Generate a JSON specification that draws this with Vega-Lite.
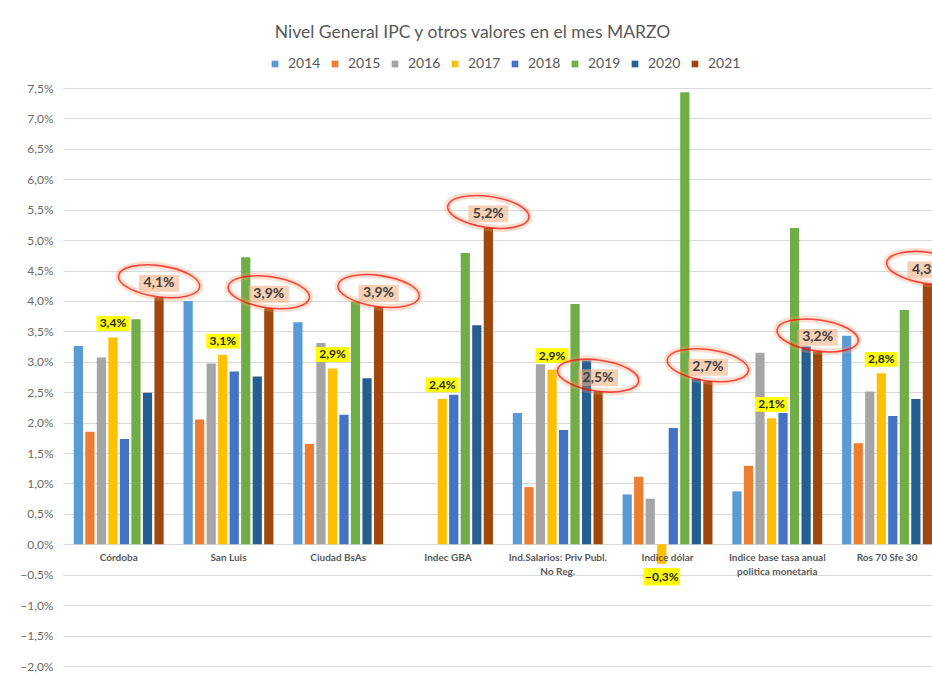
{
  "$schema": "https://vega.github.io/schema/vega-lite/v6.json",
  "width": 869,
  "height": 578,
  "autosize": {"type": "none"},
  "padding": {"left": 63, "top": 88, "right": 0, "bottom": 15},
  "background": "white",
  "config": {
    "locale": {"number": {"decimal": ",", "thousands": ".", "grouping": [3], "currency": ["", " €"]}},
    "view": {"stroke": null},
    "font": "Lato"
  },
  "title": {
    "text": "Nivel General IPC y otros valores en el mes MARZO",
    "font": "Lato",
    "fontSize": 17.5,
    "fontWeight": "normal",
    "color": "#595959",
    "anchor": "middle",
    "dx": -25,
    "offset": 16
  },
  "data": {
    "values": [
      {"c": "Córdoba", "y": "2014", "v": 0.0326},
      {"c": "Córdoba", "y": "2015", "v": 0.0185},
      {"c": "Córdoba", "y": "2016", "v": 0.0307},
      {"c": "Córdoba", "y": "2017", "v": 0.0340},
      {"c": "Córdoba", "y": "2018", "v": 0.0173},
      {"c": "Córdoba", "y": "2019", "v": 0.0370},
      {"c": "Córdoba", "y": "2020", "v": 0.0249},
      {"c": "Córdoba", "y": "2021", "v": 0.0406},
      {"c": "San Luis", "y": "2014", "v": 0.0400},
      {"c": "San Luis", "y": "2015", "v": 0.0205},
      {"c": "San Luis", "y": "2016", "v": 0.0297},
      {"c": "San Luis", "y": "2017", "v": 0.0311},
      {"c": "San Luis", "y": "2018", "v": 0.0284},
      {"c": "San Luis", "y": "2019", "v": 0.0472},
      {"c": "San Luis", "y": "2020", "v": 0.0276},
      {"c": "San Luis", "y": "2021", "v": 0.0388},
      {"c": "Ciudad BsAs", "y": "2014", "v": 0.0365},
      {"c": "Ciudad BsAs", "y": "2015", "v": 0.0165},
      {"c": "Ciudad BsAs", "y": "2016", "v": 0.0331},
      {"c": "Ciudad BsAs", "y": "2017", "v": 0.0289},
      {"c": "Ciudad BsAs", "y": "2018", "v": 0.0213},
      {"c": "Ciudad BsAs", "y": "2019", "v": 0.0399},
      {"c": "Ciudad BsAs", "y": "2020", "v": 0.0273},
      {"c": "Ciudad BsAs", "y": "2021", "v": 0.0390},
      {"c": "Indec  GBA", "y": "2017", "v": 0.0239},
      {"c": "Indec  GBA", "y": "2018", "v": 0.0246},
      {"c": "Indec  GBA", "y": "2019", "v": 0.0479},
      {"c": "Indec  GBA", "y": "2020", "v": 0.0360},
      {"c": "Indec  GBA", "y": "2021", "v": 0.0520},
      {"c": "Ind.Salarios: Priv Publ.\nNo Reg.", "y": "2014", "v": 0.0216},
      {"c": "Ind.Salarios: Priv Publ.\nNo Reg.", "y": "2015", "v": 0.0094},
      {"c": "Ind.Salarios: Priv Publ.\nNo Reg.", "y": "2016", "v": 0.0296},
      {"c": "Ind.Salarios: Priv Publ.\nNo Reg.", "y": "2017", "v": 0.0287},
      {"c": "Ind.Salarios: Priv Publ.\nNo Reg.", "y": "2018", "v": 0.0188},
      {"c": "Ind.Salarios: Priv Publ.\nNo Reg.", "y": "2019", "v": 0.0395},
      {"c": "Ind.Salarios: Priv Publ.\nNo Reg.", "y": "2020", "v": 0.0302},
      {"c": "Ind.Salarios: Priv Publ.\nNo Reg.", "y": "2021", "v": 0.0251},
      {"c": "Indice dólar", "y": "2014", "v": 0.0082},
      {"c": "Indice dólar", "y": "2015", "v": 0.0111},
      {"c": "Indice dólar", "y": "2016", "v": 0.0075},
      {"c": "Indice dólar", "y": "2017", "v": -0.0032},
      {"c": "Indice dólar", "y": "2018", "v": 0.0191},
      {"c": "Indice dólar", "y": "2019", "v": 0.0743},
      {"c": "Indice dólar", "y": "2020", "v": 0.0272},
      {"c": "Indice dólar", "y": "2021", "v": 0.0268},
      {"c": "Indice base tasa anual\npolitica monetaria", "y": "2014", "v": 0.0087},
      {"c": "Indice base tasa anual\npolitica monetaria", "y": "2015", "v": 0.0129},
      {"c": "Indice base tasa anual\npolitica monetaria", "y": "2016", "v": 0.0315},
      {"c": "Indice base tasa anual\npolitica monetaria", "y": "2017", "v": 0.0207},
      {"c": "Indice base tasa anual\npolitica monetaria", "y": "2018", "v": 0.0216},
      {"c": "Indice base tasa anual\npolitica monetaria", "y": "2019", "v": 0.0520},
      {"c": "Indice base tasa anual\npolitica monetaria", "y": "2020", "v": 0.0325},
      {"c": "Indice base tasa anual\npolitica monetaria", "y": "2021", "v": 0.0317},
      {"c": "Ros 70 Sfe 30", "y": "2014", "v": 0.0343},
      {"c": "Ros 70 Sfe 30", "y": "2015", "v": 0.0166},
      {"c": "Ros 70 Sfe 30", "y": "2016", "v": 0.0251},
      {"c": "Ros 70 Sfe 30", "y": "2017", "v": 0.0281},
      {"c": "Ros 70 Sfe 30", "y": "2018", "v": 0.0211},
      {"c": "Ros 70 Sfe 30", "y": "2019", "v": 0.0385},
      {"c": "Ros 70 Sfe 30", "y": "2020", "v": 0.0239},
      {"c": "Ros 70 Sfe 30", "y": "2021", "v": 0.0428}
    ]
  },
  "encoding": {
    "x": {
      "field": "c",
      "type": "nominal",
      "sort": ["Córdoba", "San Luis", "Ciudad BsAs", "Indec  GBA", "Ind.Salarios: Priv Publ.\nNo Reg.", "Indice dólar", "Indice base tasa anual\npolitica monetaria", "Ros 70 Sfe 30"],
      "scale": {"paddingInner": 0.181, "paddingOuter": 0.049, "align": 1},
      "axis": null
    },
    "y": {
      "field": "v",
      "type": "quantitative",
      "scale": {"domain": [-0.02, 0.075], "nice": false, "zero": false},
      "axis": {
        "values": [-0.02, -0.015, -0.01, -0.005, 0, 0.005, 0.01, 0.015, 0.02, 0.025, 0.03, 0.035, 0.04, 0.045, 0.05, 0.055, 0.06, 0.065, 0.07, 0.075],
        "format": ".1%",
        "title": null,
        "ticks": false,
        "domain": false,
        "labelPadding": 10,
        "labelFont": "Lato",
        "labelFontSize": 12,
        "labelColor": "#6b6b6b",
        "gridColor": "#D9D9D9",
        "gridWidth": 1
      }
    }
  },
  "layer": [
    {
      "mark": {"type": "bar"},
      "encoding": {
        "xOffset": {"field": "y", "type": "nominal", "scale": {"paddingInner": 0.2, "paddingOuter": 0}},
        "color": {
          "field": "y",
          "type": "nominal",
          "scale": {
            "domain": ["2014", "2015", "2016", "2017", "2018", "2019", "2020", "2021"],
            "range": ["#5B9BD5", "#ED7D31", "#A5A5A5", "#FFC000", "#4472C4", "#70AD47", "#255E91", "#9E480E"]
          },
          "legend": {
            "orient": "none",
            "direction": "horizontal",
            "legendX": 205,
            "legendY": -31,
            "title": null,
            "symbolType": "square",
            "symbolSize": 45,
            "symbolStrokeWidth": 0,
            "labelFont": "Lato",
            "labelFontSize": 14,
            "labelColor": "#595959",
            "labelOffset": 6,
            "columnPadding": 7
          }
        }
      }
    },
    {
      "transform": [{"filter": "datum.y == '2021'"}],
      "mark": {"type": "text", "baseline": "top", "align": "center", "font": "Lato", "fontSize": 10, "fontWeight": "bold", "color": "#595959", "lineBreak": "\n", "lineHeight": 13.4, "yOffset": 9},
      "encoding": {
        "y": {"datum": 0},
        "text": {"field": "c"}
      }
    },
    {
      "transform": [{"filter": "datum.y == '2017' && datum.v > 0"}],
      "mark": {"type": "point", "shape": "M-1,-0.45L1,-0.45L1,0.45L-1,0.45Z", "size": 1089, "filled": true, "color": "#FFFF00", "opacity": 1, "strokeWidth": 0, "yOffset": -14},
      "encoding": {
        "xOffset": {"field": "y", "type": "nominal"}
      }
    },
    {
      "transform": [{"filter": "datum.y == '2017' && datum.v > 0"}],
      "mark": {"type": "text", "baseline": "middle", "align": "center", "font": "Lato", "fontSize": 12, "fontWeight": "bold", "color": "#262626", "yOffset": -14},
      "encoding": {
        "xOffset": {"field": "y", "type": "nominal"},
        "text": {"field": "v", "type": "quantitative", "format": ".1%"}
      }
    },
    {
      "transform": [{"filter": "datum.y == '2017' && datum.v < 0"}],
      "mark": {"type": "point", "shape": "M-1,-0.48L1,-0.48L1,0.48L-1,0.48Z", "size": 1340, "filled": true, "color": "#FFFF00", "opacity": 1, "strokeWidth": 0, "yOffset": 13},
      "encoding": {
        "xOffset": {"field": "y", "type": "nominal"}
      }
    },
    {
      "transform": [{"filter": "datum.y == '2017' && datum.v < 0"}],
      "mark": {"type": "text", "baseline": "middle", "align": "center", "font": "Lato", "fontSize": 12, "fontWeight": "bold", "color": "#262626", "yOffset": 13},
      "encoding": {
        "xOffset": {"field": "y", "type": "nominal"},
        "text": {"field": "v", "type": "quantitative", "format": ".1%"}
      }
    },
    {
      "transform": [{"filter": "datum.y == '2021'"}],
      "mark": {"type": "point", "shape": "M-1,0A1,0.38,0,1,0,1,0A1,0.38,0,1,0,-1,0Z", "size": 6724, "filled": false, "stroke": "#F4A06A", "strokeWidth": 7, "strokeOpacity": 0.45, "angle": 8, "yOffset": -16},
      "encoding": {
        "xOffset": {"field": "y", "type": "nominal"}
      }
    },
    {
      "transform": [{"filter": "datum.y == '2021'"}],
      "mark": {"type": "point", "shape": "M-1,0A1,0.38,0,1,0,1,0A1,0.38,0,1,0,-1,0Z", "size": 6724, "filled": false, "stroke": "#FF0000", "strokeWidth": 1.6, "strokeOpacity": 1, "angle": 8, "yOffset": -16},
      "encoding": {
        "xOffset": {"field": "y", "type": "nominal"}
      }
    },
    {
      "transform": [{"filter": "datum.y == '2021'"}],
      "mark": {"type": "point", "shape": "M-1,-0.42L1,-0.42L1,0.42L-1,0.42Z", "size": 1600, "filled": true, "color": "#F4B183", "opacity": 0.6, "strokeWidth": 0, "yOffset": -14},
      "encoding": {
        "xOffset": {"field": "y", "type": "nominal"}
      }
    },
    {
      "transform": [{"filter": "datum.y == '2021'"}],
      "mark": {"type": "text", "baseline": "middle", "align": "center", "font": "Lato", "fontSize": 14, "fontWeight": "bold", "color": "#404040", "yOffset": -14},
      "encoding": {
        "xOffset": {"field": "y", "type": "nominal"},
        "text": {"field": "v", "type": "quantitative", "format": ".1%"}
      }
    }
  ]
}
